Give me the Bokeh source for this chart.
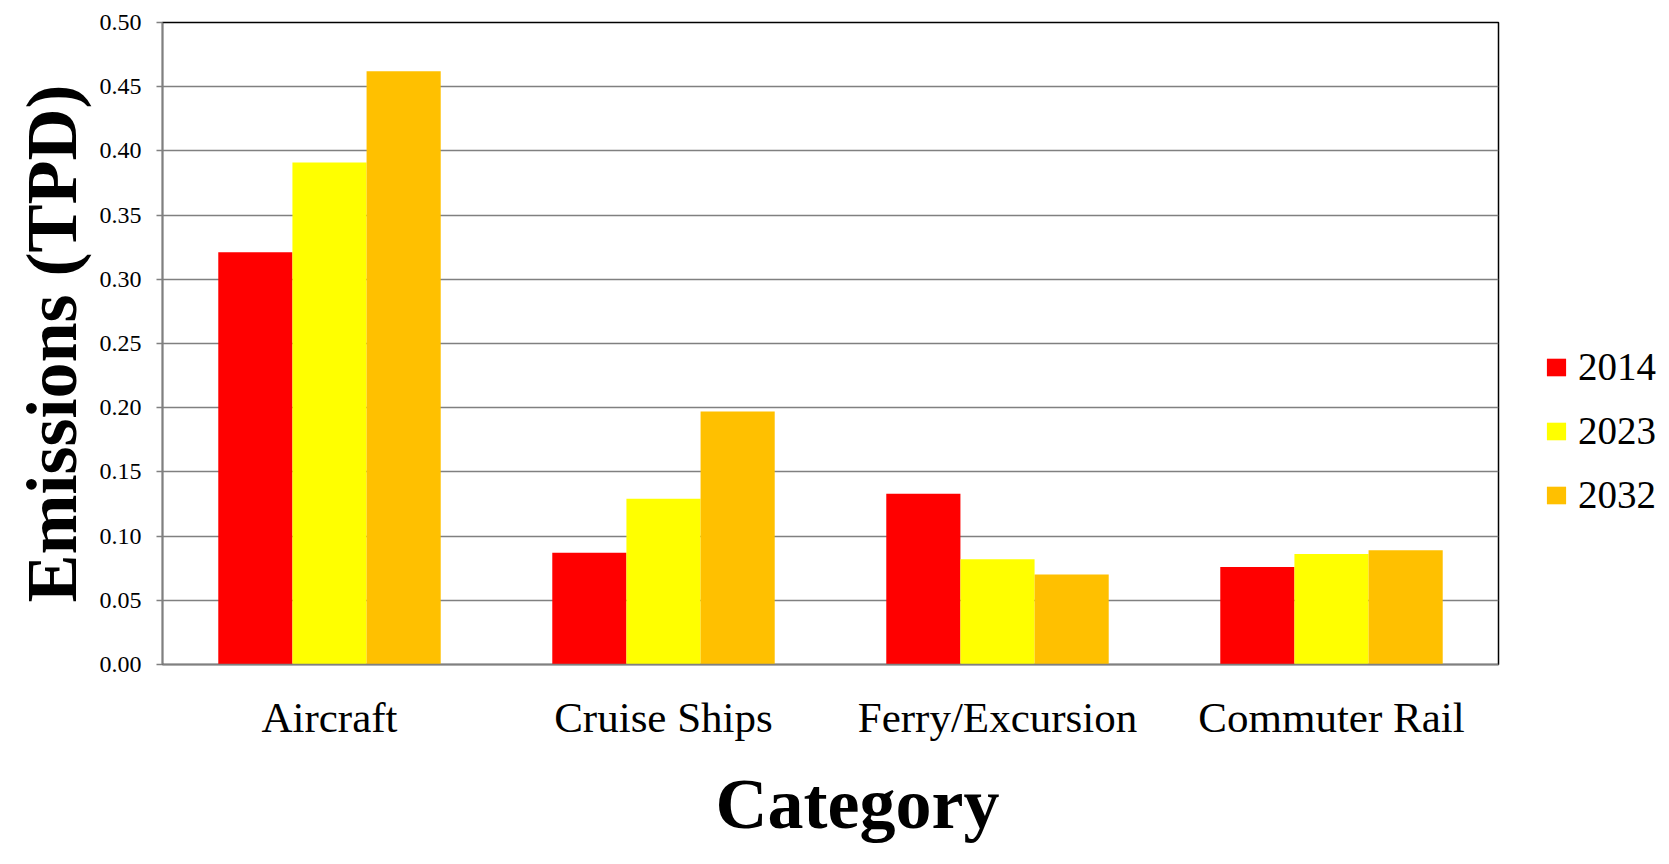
from bokeh.plotting import figure
from bokeh.layouts import row
from bokeh.models import FactorRange, FixedTicker, NumeralTickFormatter, Legend, LegendItem, ColumnDataSource, Title
from bokeh.transform import dodge
from bokeh.embed import file_html
from bokeh.resources import INLINE

categories = ["Aircraft", "Cruise Ships", "Ferry/Excursion", "Commuter Rail"]
years = ["2014", "2023", "2032"]
v2014 = [0.321, 0.087, 0.133, 0.076]
v2023 = [0.391, 0.129, 0.082, 0.086]
v2032 = [0.462, 0.197, 0.070, 0.089]
colors = ["#FF0000", "#FFFF00", "#FFC000"]
y_ticks = [0.0, 0.05, 0.10, 0.15, 0.20, 0.25, 0.30, 0.35, 0.40, 0.45, 0.50]

FONT = "Liberation Serif"

src = ColumnDataSource(dict(cat=categories, y2014=v2014, y2023=v2023, y2032=v2032))

p = figure(x_range=FactorRange(*categories, range_padding=0), y_range=(0, 0.5),
           width=1500, height=864, output_backend="svg", toolbar_location=None,
           min_border_left=162, min_border_right=2, min_border_top=22, min_border_bottom=200)

bw = 0.222
offsets = [-bw, 0.0, bw]
for yr, col, off in zip(years, colors, offsets):
    p.vbar(x=dodge("cat", off, range=p.x_range), top="y" + yr, width=bw, source=src,
           fill_color=col, line_color=None)

p.outline_line_color = "black"
p.outline_line_width = 1.5

p.xgrid.grid_line_color = None
p.ygrid.grid_line_color = "#808080"
p.ygrid.grid_line_width = 1.5

p.yaxis.ticker = FixedTicker(ticks=y_ticks)
p.yaxis.formatter = NumeralTickFormatter(format="0.00")
p.yaxis.axis_line_color = "#808080"
p.yaxis.axis_line_width = 1.5
p.yaxis.major_tick_line_color = "#808080"
p.yaxis.major_tick_line_width = 1.5
p.yaxis.major_tick_out = 6
p.yaxis.major_tick_in = 0
p.yaxis.minor_tick_line_color = None
p.yaxis.major_label_text_font = FONT
p.yaxis.major_label_text_font_size = "24px"
p.yaxis.major_label_text_color = "black"
p.yaxis.major_label_standoff = 15
p.yaxis.axis_label = "Emissions (TPD)"
p.yaxis.axis_label_text_font = FONT
p.yaxis.axis_label_text_font_style = "bold"
p.yaxis.axis_label_text_font_size = "72px"
p.yaxis.axis_label_text_color = "black"
p.yaxis.axis_label_standoff = 5

p.xaxis.axis_line_color = "#808080"
p.xaxis.axis_line_width = 1.5
p.xaxis.major_tick_line_color = None
p.xaxis.major_tick_out = 0
p.xaxis.major_tick_in = 0
p.xaxis.minor_tick_line_color = None
p.xaxis.major_label_text_font = FONT
p.xaxis.major_label_text_font_size = "43px"
p.xaxis.major_label_text_color = "black"
p.xaxis.major_label_standoff = 29

xtitle = Title(text="Category", align="left", offset=553, standoff=37,
               text_font=FONT, text_font_style="bold", text_font_size="72px", text_color="black")
p.add_layout(xtitle, "below")

# legend panel (separate figure placed to the right)
lp = figure(width=169, height=864, output_backend="svg", toolbar_location=None,
            x_range=(0, 1), y_range=(0, 1), x_axis_type=None, y_axis_type=None,
            min_border=0, min_border_left=0, min_border_right=0, min_border_top=0, min_border_bottom=0)
lp.outline_line_color = None
lp.grid.visible = False
items = []
for yr, col in zip(years, colors):
    r = lp.vbar(x=[float("nan")], top=[float("nan")], width=0.1, fill_color=col, line_color=None)
    items.append(LegendItem(label=yr, renderers=[r]))

legend = Legend(items=items, location=(44, 147), padding=0, margin=0, border_line_color=None,
                background_fill_alpha=0, glyph_width=24, glyph_height=22,
                label_text_font=FONT, label_text_font_size="39px", label_text_color="black",
                label_standoff=10, label_height=40, spacing=19)
lp.add_layout(legend, "center")

layout = row(p, lp, spacing=0)
open("out.html", "w").write(file_html(layout, INLINE))
